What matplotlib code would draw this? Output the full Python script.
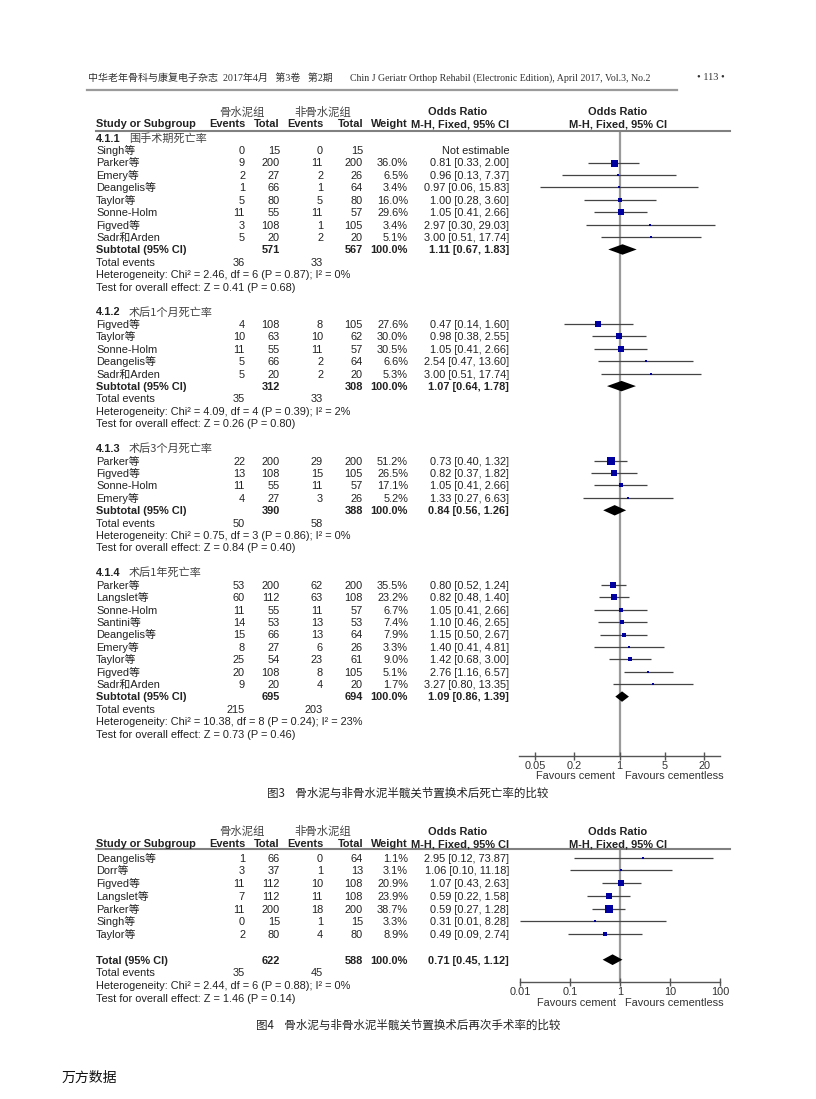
import matplotlib
matplotlib.use('Agg')
from matplotlib import pyplot as plt
from matplotlib.lines import Line2D
from matplotlib.transforms import blended_transform_factory, offset_copy

W, H = 816, 1099
SANS = ['Liberation Sans', 'Noto Sans CJK SC']
SERIF = ['Liberation Serif', 'Noto Sans CJK SC']
CJK = ['Noto Sans CJK SC']
FS = 7.9
TXT = '#222222'

# ---------------- Fig 3 data (mortality, 4 subgroups) ----------------
sg_codes = ['4.1.1', '4.1.2', '4.1.3', '4.1.4']
sg_titles = ['围手术期死亡率', '术后1个月死亡率', '术后3个月死亡率', '术后1年死亡率']

sg1_names = ['Singh等', 'Parker等', 'Emery等', 'Deangelis等', 'Taylor等', 'Sonne-Holm', 'Figved等', 'Sadr和Arden']
sg1_ev_c = [0, 9, 2, 1, 5, 11, 3, 5]
sg1_n_c = [15, 200, 27, 66, 80, 55, 108, 20]
sg1_ev_n = [0, 11, 2, 1, 5, 11, 1, 2]
sg1_n_n = [15, 200, 26, 64, 80, 57, 105, 20]
sg1_w = [None, 36.0, 6.5, 3.4, 16.0, 29.6, 3.4, 5.1]
sg1_or = [None, 0.81, 0.96, 0.97, 1.00, 1.05, 2.97, 3.00]
sg1_lo = [None, 0.33, 0.13, 0.06, 0.28, 0.41, 0.30, 0.51]
sg1_hi = [None, 2.00, 7.37, 15.83, 3.60, 2.66, 29.03, 17.74]

sg2_names = ['Figved等', 'Taylor等', 'Sonne-Holm', 'Deangelis等', 'Sadr和Arden']
sg2_ev_c = [4, 10, 11, 5, 5]
sg2_n_c = [108, 63, 55, 66, 20]
sg2_ev_n = [8, 10, 11, 2, 2]
sg2_n_n = [105, 62, 57, 64, 20]
sg2_w = [27.6, 30.0, 30.5, 6.6, 5.3]
sg2_or = [0.47, 0.98, 1.05, 2.54, 3.00]
sg2_lo = [0.14, 0.38, 0.41, 0.47, 0.51]
sg2_hi = [1.60, 2.55, 2.66, 13.60, 17.74]

sg3_names = ['Parker等', 'Figved等', 'Sonne-Holm', 'Emery等']
sg3_ev_c = [22, 13, 11, 4]
sg3_n_c = [200, 108, 55, 27]
sg3_ev_n = [29, 15, 11, 3]
sg3_n_n = [200, 105, 57, 26]
sg3_w = [51.2, 26.5, 17.1, 5.2]
sg3_or = [0.73, 0.82, 1.05, 1.33]
sg3_lo = [0.40, 0.37, 0.41, 0.27]
sg3_hi = [1.32, 1.82, 2.66, 6.63]

sg4_names = ['Parker等', 'Langslet等', 'Sonne-Holm', 'Santini等', 'Deangelis等', 'Emery等', 'Taylor等', 'Figved等', 'Sadr和Arden']
sg4_ev_c = [53, 60, 11, 14, 15, 8, 25, 20, 9]
sg4_n_c = [200, 112, 55, 53, 66, 27, 54, 108, 20]
sg4_ev_n = [62, 63, 11, 13, 13, 6, 23, 8, 4]
sg4_n_n = [200, 108, 57, 53, 64, 26, 61, 105, 20]
sg4_w = [35.5, 23.2, 6.7, 7.4, 7.9, 3.3, 9.0, 5.1, 1.7]
sg4_or = [0.80, 0.82, 1.05, 1.10, 1.15, 1.40, 1.42, 2.76, 3.27]
sg4_lo = [0.52, 0.48, 0.41, 0.46, 0.50, 0.41, 0.68, 1.16, 0.80]
sg4_hi = [1.24, 1.40, 2.66, 2.65, 2.67, 4.81, 3.00, 6.57, 13.35]

sub_n_c = [571, 312, 390, 695]
sub_n_n = [567, 308, 388, 694]
sub_or = [1.11, 1.07, 0.84, 1.09]
sub_lo = [0.67, 0.64, 0.56, 0.86]
sub_hi = [1.83, 1.78, 1.26, 1.39]
sub_ev_c = [36, 35, 50, 215]
sub_ev_n = [33, 33, 58, 203]
sub_het = ['Heterogeneity: Chi² = 2.46, df = 6 (P = 0.87); I² = 0%',
           'Heterogeneity: Chi² = 4.09, df = 4 (P = 0.39); I² = 2%',
           'Heterogeneity: Chi² = 0.75, df = 3 (P = 0.86); I² = 0%',
           'Heterogeneity: Chi² = 10.38, df = 8 (P = 0.24); I² = 23%']
sub_test = ['Test for overall effect: Z = 0.41 (P = 0.68)',
            'Test for overall effect: Z = 0.26 (P = 0.80)',
            'Test for overall effect: Z = 0.84 (P = 0.40)',
            'Test for overall effect: Z = 0.73 (P = 0.46)']

# ---------------- Fig 4 data (reoperation) ----------------
f4_names = ['Deangelis等', 'Dorr等', 'Figved等', 'Langslet等', 'Parker等', 'Singh等', 'Taylor等']
f4_ev_c = [1, 3, 11, 7, 11, 0, 2]
f4_n_c = [66, 37, 112, 112, 200, 15, 80]
f4_ev_n = [0, 1, 10, 11, 18, 1, 4]
f4_n_n = [64, 13, 108, 108, 200, 15, 80]
f4_w = [1.1, 3.1, 20.9, 23.9, 38.7, 3.3, 8.9]
f4_or = [2.95, 1.06, 1.07, 0.59, 0.59, 0.31, 0.49]
f4_lo = [0.12, 0.10, 0.43, 0.22, 0.27, 0.01, 0.09]
f4_hi = [73.87, 11.18, 2.63, 1.58, 1.28, 8.28, 2.74]
f4_tot = [622, 588, 0.71, 0.45, 1.12]
f4_ev = [35, 45]
f4_het = 'Heterogeneity: Chi² = 2.44, df = 6 (P = 0.88); I² = 0%'
f4_test = 'Test for overall effect: Z = 1.46 (P = 0.14)'

f3_ticks = [0.05, 0.2, 1, 5, 20]
f3_ticklabels = ['0.05', '0.2', '1', '5', '20']
f4_ticks = [0.01, 0.1, 1, 10, 100]
f4_ticklabels = ['0.01', '0.1', '1', '10', '100']

fig = plt.figure(figsize=(W / 100, H / 100), dpi=100)
fig.patch.set_facecolor('white')


def fx(x):
    return x / W


def fy(y):
    return 1 - y / H


def ftext(x, y, s, **kw):
    kw.setdefault('family', SANS)
    kw.setdefault('fontsize', FS)
    kw.setdefault('color', TXT)
    kw.setdefault('va', 'center')
    fig.text(fx(x), fy(y), s, **kw)


def hline(x0, x1, y, color='#888888', lw=1.4):
    fig.add_artist(Line2D([fx(x0), fx(x1)], [fy(y), fy(y)], color=color, lw=lw,
                          transform=fig.transFigure))


def make_axes(left, right, top, bottom, t0, step, xlim, ticks, labels):
    ax = fig.add_axes([fx(left), fy(bottom), (right - left) / W, (bottom - top) / H])
    ax.set_xscale('log')
    ax.set_xlim(*xlim)
    ax.set_ylim((bottom - t0) / step, (top - t0) / step)
    for sp in ['left', 'right', 'top']:
        ax.spines[sp].set_visible(False)
    ax.spines['bottom'].set_color('#555555')
    ax.spines['bottom'].set_linewidth(1.0)
    ax.set_yticks([])
    ax.set_xticks(ticks)
    ax.set_xticklabels(labels, family=SANS, fontsize=FS, color='#333333')
    ax.xaxis.set_minor_locator(matplotlib.ticker.NullLocator())
    ax.tick_params(axis='x', direction='inout', length=6, width=1, color='#555555', pad=1)
    ax.axvline(1, color='#9a9a9a', lw=1.6, zorder=1)
    ax.patch.set_alpha(0)
    return ax


def table_text(ax):
    tr = blended_transform_factory(fig.transFigure, ax.transData)
    tr = offset_copy(tr, fig=fig, x=0, y=-2.8, units='points')

    def t(x, row, s, ha='right', **kw):
        kw.setdefault('family', SANS)
        kw.setdefault('fontsize', FS)
        kw.setdefault('color', TXT)
        ax.text(fx(x), row, s, ha=ha, va='baseline', transform=tr, clip_on=False, **kw)
    return t


COLS = [245, 280, 323, 363, 408, 509]


def study_row(ax, t, row, name, e1, n1, e2, n2, w, orr, lo, hi, k):
    t(96, row, name, ha='left')
    for x, v in zip(COLS[:4], [e1, n1, e2, n2]):
        t(x, row, str(v))
    if orr is None:
        t(COLS[5], row, 'Not estimable')
        return
    t(COLS[4], row, f'{w:.1f}%')
    t(COLS[5], row, f'{orr:.2f} [{lo:.2f}, {hi:.2f}]')
    ax.plot([lo, hi], [row, row], color='#444444', lw=0.9, solid_capstyle='butt',
            clip_on=False, zorder=2)
    side = max(2.0, k * (w / 36.0) ** 0.5)
    ax.plot([orr], [row], marker='s', ms=side * 0.72, mew=0, color='#0000a0',
            zorder=3, clip_on=False)


def diamond(ax, row, est, lo, hi, h=0.42):
    ax.fill([lo, est, hi, est], [row, row - h, row, row + h], color='black', lw=0,
            zorder=4, clip_on=False)


def headers(y1, y2, uline):
    ftext(242, y1, '骨水泥组', ha='center', family=CJK, fontsize=8.2, color='#444444')
    ftext(323, y1, '非骨水泥组', ha='center', family=CJK, fontsize=8.2, color='#444444')
    ftext(458, y1, 'Odds Ratio', ha='center', weight='bold')
    ftext(618, y1, 'Odds Ratio', ha='center', weight='bold')
    ftext(96, y2, 'Study or Subgroup', ha='left', weight='bold')
    for x, s in zip(COLS, ['Events', 'Total', 'Events', 'Total', 'Weight', 'M-H, Fixed, 95% CI']):
        ftext(x, y2, s, ha='right', weight='bold')
    ftext(618, y2, 'M-H, Fixed, 95% CI', ha='center', weight='bold')
    hline(96, 730, uline, color='#808080', lw=1.5)


# ---------------- page header ----------------
ftext(88, 78, '中华老年骨科与康复电子杂志  2017年4月   第3卷   第2期', ha='left',
      family=SERIF, fontsize=7.2, color='#333333')
ftext(350, 78, 'Chin J Geriatr Orthop Rehabil (Electronic Edition), April 2017, Vol.3, No.2',
      ha='left', family=SERIF, fontsize=7.1, color='#333333')
ftext(697, 78, '• 113 •', ha='left', family=SERIF, fontsize=7.4, color='#333333')
hline(87, 677, 90, color='#9a9a9a', lw=1.6)

# ---------------- Figure 3 ----------------
T3, D3 = 137.7, 12.42
half3 = 100.3 / 65.1
ax3 = make_axes(519.3, 719.9, 131, 755.7, T3, D3, (10 ** -half3, 10 ** half3),
                f3_ticks, f3_ticklabels)
t3 = table_text(ax3)
headers(112.3, 124.3, 131)

groups = [
    (sg1_names, sg1_ev_c, sg1_n_c, sg1_ev_n, sg1_n_n, sg1_w, sg1_or, sg1_lo, sg1_hi),
    (sg2_names, sg2_ev_c, sg2_n_c, sg2_ev_n, sg2_n_n, sg2_w, sg2_or, sg2_lo, sg2_hi),
    (sg3_names, sg3_ev_c, sg3_n_c, sg3_ev_n, sg3_n_n, sg3_w, sg3_or, sg3_lo, sg3_hi),
    (sg4_names, sg4_ev_c, sg4_n_c, sg4_ev_n, sg4_n_n, sg4_w, sg4_or, sg4_lo, sg4_hi),
]
row = 0
for g, cols in enumerate(groups):
    t3(96, row, sg_codes[g], ha='left', weight='bold')
    t3(129, row, sg_titles[g], ha='left', family=CJK, fontsize=8.0, color='#444444')
    row += 1
    for i in range(len(cols[0])):
        study_row(ax3, t3, row, *[c[i] for c in cols], k=7.0)
        row += 1
    t3(96, row, 'Subtotal (95% CI)', ha='left', weight='bold')
    t3(COLS[1], row, str(sub_n_c[g]), weight='bold')
    t3(COLS[3], row, str(sub_n_n[g]), weight='bold')
    t3(COLS[4], row, '100.0%', weight='bold')
    t3(COLS[5], row, f'{sub_or[g]:.2f} [{sub_lo[g]:.2f}, {sub_hi[g]:.2f}]', weight='bold')
    diamond(ax3, row, sub_or[g], sub_lo[g], sub_hi[g])
    row += 1
    t3(96, row, 'Total events', ha='left')
    t3(COLS[0], row, str(sub_ev_c[g]))
    t3(COLS[2], row, str(sub_ev_n[g]))
    row += 1
    t3(96, row, sub_het[g], ha='left')
    row += 1
    t3(96, row, sub_test[g], ha='left')
    row += 2

ftext(615, 775.7, 'Favours cement', ha='right', color='#333333')
ftext(625, 775.7, 'Favours cementless', ha='left', color='#333333')
ftext(408, 793, '图3    骨水泥与非骨水泥半髋关节置换术后死亡率的比较', ha='center',
      family=CJK, fontsize=8.3)

# ---------------- Figure 4 ----------------
T4, D4 = 857.7, 12.75
ax4 = make_axes(520, 720, 849, 981.7, T4, D4, (0.01, 100), f4_ticks, f4_ticklabels)
t4 = table_text(ax4)
headers(831.7, 844.3, 849)

cols4 = (f4_names, f4_ev_c, f4_n_c, f4_ev_n, f4_n_n, f4_w, f4_or, f4_lo, f4_hi)
for i in range(len(f4_names)):
    study_row(ax4, t4, i, *[c[i] for c in cols4], k=7.7)
row = len(f4_names) + 1
t4(96, row, 'Total (95% CI)', ha='left', weight='bold')
t4(COLS[1], row, str(f4_tot[0]), weight='bold')
t4(COLS[3], row, str(f4_tot[1]), weight='bold')
t4(COLS[4], row, '100.0%', weight='bold')
t4(COLS[5], row, f'{f4_tot[2]:.2f} [{f4_tot[3]:.2f}, {f4_tot[4]:.2f}]', weight='bold')
diamond(ax4, row, f4_tot[2], f4_tot[3], f4_tot[4])
t4(96, row + 1, 'Total events', ha='left')
t4(COLS[0], row + 1, str(f4_ev[0]))
t4(COLS[2], row + 1, str(f4_ev[1]))
t4(96, row + 2, f4_het, ha='left')
t4(96, row + 3, f4_test, ha='left')

ftext(616, 1003.3, 'Favours cement', ha='right', color='#333333')
ftext(625, 1003.3, 'Favours cementless', ha='left', color='#333333')
ftext(408, 1025.5, '图4    骨水泥与非骨水泥半髋关节置换术后再次手术率的比较', ha='center',
      family=CJK, fontsize=8.3)

ftext(62, 1078, '万方数据', ha='left', family=CJK, fontsize=10, color='#111111')

fig.savefig('out.png', dpi=100, facecolor='white')
